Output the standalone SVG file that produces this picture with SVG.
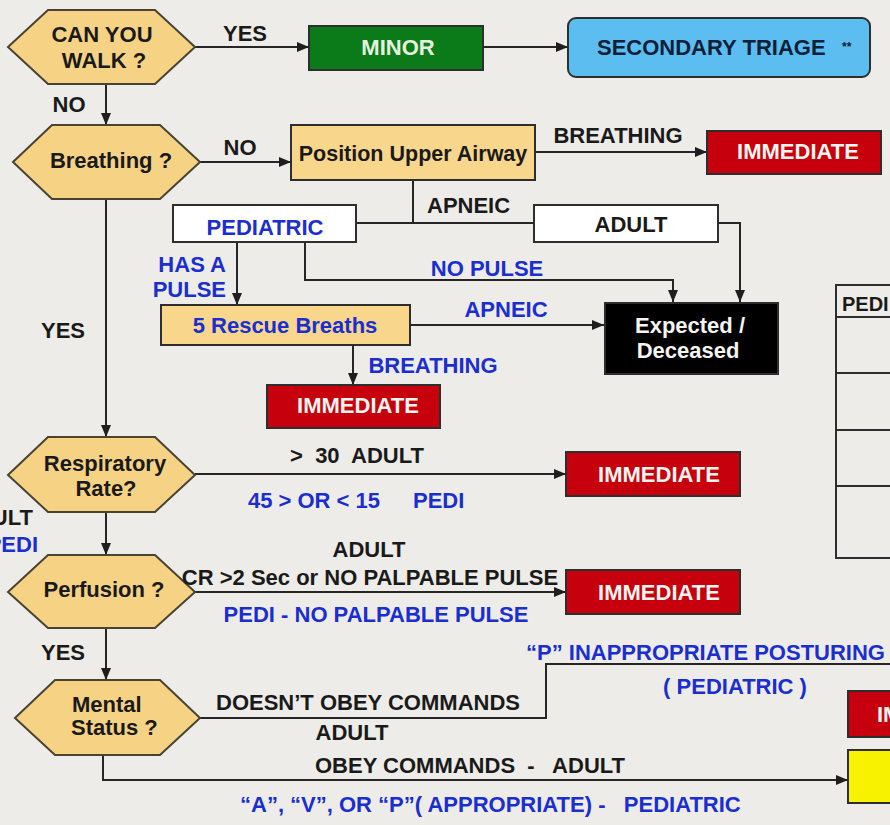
<svg xmlns="http://www.w3.org/2000/svg" width="890" height="825" viewBox="0 0 890 825">
<defs>
<marker id="ah" viewBox="0 0 12 10" refX="12" refY="5" markerWidth="12" markerHeight="10" markerUnits="userSpaceOnUse" orient="auto">
<path d="M0,0 L12,5 L0,10 Z" fill="#1e1e1e"/>
</marker>
<style>
text{font-family:"Liberation Sans",Arial,sans-serif;font-weight:bold;font-size:22px;}
.k{fill:#1a1a1a;}
.b{fill:#1b2ed0;}
.w{fill:#f4f4f0;}
.c{text-anchor:middle;}
.e{text-anchor:end;}
.hex{fill:#f6d384;stroke:#4a4232;stroke-width:2;}
.box{stroke:#2e2e2e;stroke-width:2;}
.y{fill:#f8d78c;}
.red{fill:#c6000c;}
.wh{fill:#ffffff;}
.ln{fill:none;stroke:#262626;stroke-width:2;}
.ar{fill:none;stroke:#262626;stroke-width:2;marker-end:url(#ah);}
</style>
</defs>
<rect x="0" y="0" width="890" height="825" fill="#edece8"/>

<g id="connectors">
<path class="ar" d="M106,84 V125"/>
<path class="ar" d="M195,47 H309"/>
<path class="ar" d="M483,47 H568"/>
<path class="ar" d="M200,162 H291"/>
<path class="ar" d="M535,152 H707"/>
<path class="ln" d="M413,180 V223"/>
<path class="ln" d="M356,223 H534"/>
<path class="ar" d="M718,223 H740 V302"/>
<path class="ar" d="M305,242 V280 H673 V302"/>
<path class="ar" d="M237,242 V305"/>
<path class="ar" d="M410,325 H604"/>
<path class="ar" d="M353,345 V385"/>
<path class="ar" d="M106,199 V437"/>
<path class="ar" d="M195,474 H566"/>
<path class="ar" d="M106,512 V555"/>
<path class="ar" d="M195,592 H566"/>
<path class="ar" d="M106,628 V680"/>
<path class="ln" d="M200,718 H546 V664 H892"/>
<path class="ar" d="M103,755 V780 H848"/>
</g>

<g id="can-you-walk">
<polygon class="hex" points="8,47 48,10 155,10 195,47 155,84 48,84"/>
<text class="k c" x="102" y="42">CAN YOU</text>
<text class="k c" x="104" y="68">WALK ?</text>
</g>
<g id="minor">
<rect class="box" x="309" y="26" width="174" height="44" fill="#0b7a18"/>
<text class="c" x="398" y="55" fill="#e6f2e0">MINOR</text>
</g>
<g id="secondary-triage">
<rect class="box" x="568" y="18" width="302" height="59" rx="8" fill="#5cbdf1"/>
<text x="597" y="55" fill="#0f2038">SECONDARY TRIAGE</text>
<text x="842" y="51" fill="#0f2038" style="font-size:12px">**</text>
</g>
<g id="breathing">
<polygon class="hex" points="13,162 52,125 160,125 200,162 160,199 52,199"/>
<text class="k c" x="111" y="168">Breathing ?</text>
</g>
<g id="position-airway">
<rect class="box y" x="291" y="125" width="244" height="55"/>
<text class="k c" x="413" y="161" style="font-size:21.5px">Position Upper Airway</text>
</g>
<g id="immediate-1">
<rect class="box red" x="707" y="131" width="174" height="43"/>
<text class="w c" x="798" y="159">IMMEDIATE</text>
</g>
<g id="pediatric">
<rect class="box wh" x="173" y="205" width="183" height="37"/>
<text class="b c" x="265" y="235">PEDIATRIC</text>
</g>
<g id="adult">
<rect class="box wh" x="534" y="205" width="184" height="37"/>
<text class="k c" x="631" y="232">ADULT</text>
</g>
<g id="rescue-breaths">
<rect class="box y" x="161" y="305" width="249" height="40"/>
<text class="b c" x="285" y="333">5 Rescue Breaths</text>
</g>
<g id="expected-deceased">
<rect class="box" x="605" y="303" width="173" height="71" fill="#000000"/>
<text class="w c" x="690" y="333">Expected /</text>
<text class="w c" x="688" y="358">Deceased</text>
</g>
<g id="immediate-2">
<rect class="box red" x="267" y="385" width="173" height="43"/>
<text class="w c" x="358" y="413">IMMEDIATE</text>
</g>
<g id="respiratory-rate">
<polygon class="hex" points="8,475 48,437 155,437 195,475 155,512 48,512"/>
<text class="k c" x="105" y="471">Respiratory</text>
<text class="k c" x="106" y="496">Rate?</text>
</g>
<g id="immediate-3">
<rect class="box red" x="566" y="452" width="174" height="44"/>
<text class="w c" x="659" y="482">IMMEDIATE</text>
</g>
<g id="perfusion">
<polygon class="hex" points="8,592 48,555 155,555 195,592 155,628 48,628"/>
<text class="k c" x="104" y="597">Perfusion ?</text>
</g>
<g id="immediate-4">
<rect class="box red" x="566" y="570" width="174" height="44"/>
<text class="w c" x="659" y="600">IMMEDIATE</text>
</g>
<g id="mental-status">
<polygon class="hex" points="15,718 55,680 160,680 200,718 160,755 55,755"/>
<text class="k" x="72" y="712">Mental</text>
<text class="k" x="71" y="735">Status ?</text>
</g>
<g id="immediate-5">
<rect class="box red" x="848" y="691" width="50" height="46"/>
<text class="w" x="877" y="722">IMMEDIATE</text>
</g>
<g id="delayed">
<rect class="box" x="848" y="750" width="50" height="53" fill="#f6f200"/>
</g>
<g id="pedi-table">
<rect x="836" y="285" width="70" height="273" fill="none" stroke="#2e2e2e" stroke-width="2"/>
<path d="M836,317 H892 M836,373 H892 M836,430 H892 M836,486 H892" stroke="#2e2e2e" stroke-width="2"/>
<text class="k" x="842" y="311" style="font-size:20px">PEDI</text>
</g>

<g id="labels">
<text class="k c" x="245" y="41">YES</text>
<text class="k c" x="69" y="112">NO</text>
<text class="k c" x="240" y="155">NO</text>
<text class="k c" x="618" y="143">BREATHING</text>
<text class="k" x="427" y="213">APNEIC</text>
<text class="b e" x="226" y="272">HAS A</text>
<text class="b e" x="226" y="297">PULSE</text>
<text class="b c" x="487" y="276">NO PULSE</text>
<text class="b c" x="506" y="317">APNEIC</text>
<text class="b c" x="433" y="373">BREATHING</text>
<text class="k c" x="63" y="338">YES</text>
<text class="k c" x="357" y="463" xml:space="preserve">&gt;  30  ADULT</text>
<text class="b c" x="314" y="508">45 &gt; OR &lt; 15</text>
<text class="b" x="413" y="508">PEDI</text>
<text class="k e" x="33" y="525">ADULT</text>
<text class="b e" x="38" y="552">PEDI</text>
<text class="k c" x="369" y="557">ADULT</text>
<text class="k c" x="370" y="585">CR &gt;2 Sec or NO PALPABLE PULSE</text>
<text class="b c" x="376" y="622">PEDI - NO PALPABLE PULSE</text>
<text class="k c" x="63" y="660">YES</text>
<text class="b" x="526" y="660">“P” INAPPROPRIATE POSTURING</text>
<text class="b c" x="735" y="694">( PEDIATRIC )</text>
<text class="k c" x="368" y="710">DOESN’T OBEY COMMANDS</text>
<text class="k c" x="352" y="740">ADULT</text>
<text class="k" x="315" y="773" xml:space="preserve">OBEY COMMANDS  -   ADULT</text>
<text class="b" x="240" y="812" xml:space="preserve">“A”, “V”, OR “P”( APPROPRIATE) -   PEDIATRIC</text>
</g>
</svg>
